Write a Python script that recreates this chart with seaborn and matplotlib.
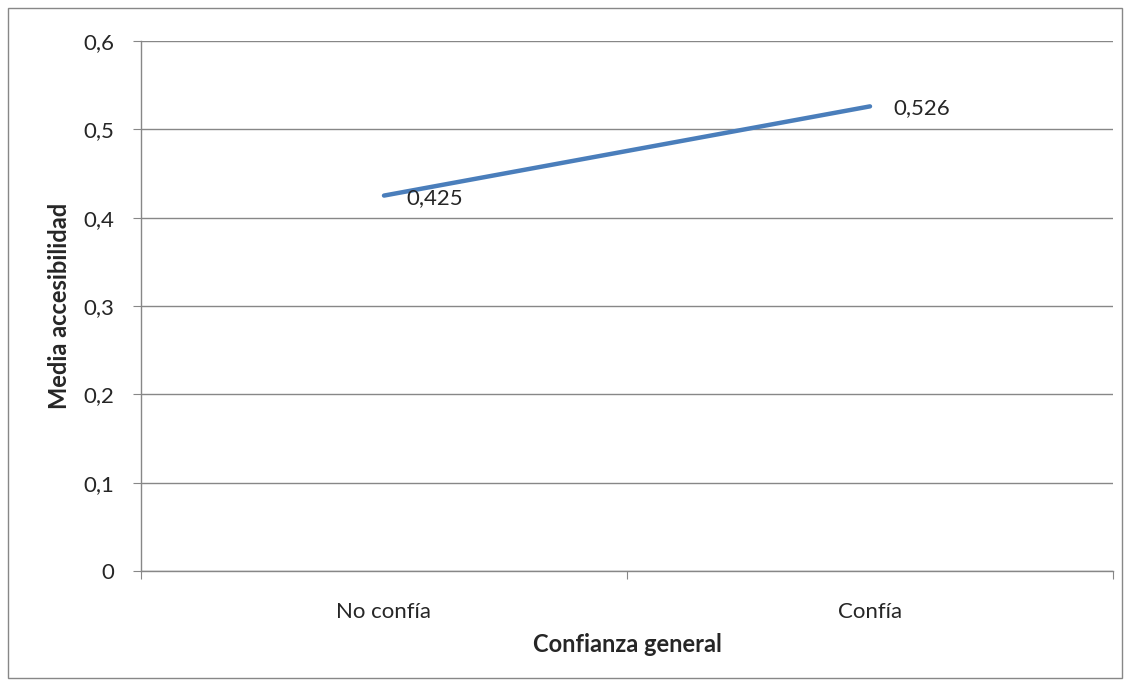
import matplotlib
matplotlib.use("Agg")
import matplotlib.pyplot as plt
import seaborn as sns
import pandas as pd
from matplotlib.patches import Rectangle

categories = ["No confía", "Confía"]
values = [0.425, 0.526]
value_labels = ["0,425", "0,526"]
y_ticks = [0, 0.1, 0.2, 0.3, 0.4, 0.5, 0.6]
y_tick_labels = ["0", "0,1", "0,2", "0,3", "0,4", "0,5", "0,6"]

sns.set_style("white")
plt.rcParams['font.family'] = ['Lato', 'DejaVu Sans']

df = pd.DataFrame({"x": range(len(categories)), "y": values})

fig = plt.figure(figsize=(11.3, 6.86), dpi=100)
ax = fig.add_axes([141/1130, 1-571/686, 972/1130, 530/686])

sns.lineplot(data=df, x="x", y="y", ax=ax, color="#4A7EBB", linewidth=3.2)

FS = 16
ax.set_xlim(-0.5, len(categories) - 0.5)
ax.set_ylim(0, 0.6)
ax.set_yticks(y_ticks)
ax.set_yticklabels(y_tick_labels, fontsize=FS)
ax.yaxis.grid(True, color="#878787", linewidth=1)
ax.set_axisbelow(True)

ax.set_xticks([i - 0.5 for i in range(len(categories) + 1)])
ax.set_xticklabels([])
ax.set_xticks(range(len(categories)), minor=True)
ax.set_xticklabels(categories, minor=True, fontsize=FS)
ax.tick_params(axis="x", which="major", length=6, color="#878787", direction="out")
ax.tick_params(axis="x", which="minor", length=0, pad=22)
ax.tick_params(axis="y", length=6, color="#878787", direction="out", pad=13)
ax.tick_params(bottom=True, left=True)

for s in ["top", "right"]:
    ax.spines[s].set_visible(False)
for s in ["left", "bottom"]:
    ax.spines[s].set_color("#878787")
    ax.spines[s].set_linewidth(1)

ax.set_xlabel("Confianza general", fontsize=17, fontweight="bold", labelpad=8)
ax.set_ylabel("Media accesibilidad", fontsize=17, fontweight="bold", labelpad=9)

ax.annotate(value_labels[0], (0, values[0]), xytext=(16, -1.5), textcoords="offset points",
            fontsize=FS, ha="left", va="center")
ax.annotate(value_labels[1], (1, values[1]), xytext=(16.5, -1.5), textcoords="offset points",
            fontsize=FS, ha="left", va="center")

fig.patches.append(Rectangle((8/1130, 8/686), 1114/1130, 670/686, transform=fig.transFigure,
                             fill=False, edgecolor="#878787", linewidth=1))

fig.savefig("out.png", dpi=100)
